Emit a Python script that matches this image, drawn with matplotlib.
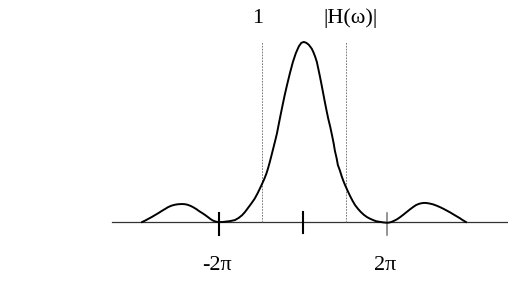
import matplotlib
matplotlib.use("Agg")
import matplotlib.pyplot as plt

# |H(w)|, w in units of pi, height relative to peak
omega = [-3.83, -3.75, -3.68, -3.60, -3.52, -3.44, -3.36, -3.28, -3.21, -3.13,
         -3.05, -2.97, -2.88, -2.81, -2.75, -2.68, -2.62, -2.54, -2.47, -2.40,
         -2.33, -2.26, -2.20, -2.15, -2.10, -2.05, -2.00, -1.92, -1.85, -1.74,
         -1.62, -1.53, -1.45, -1.38, -1.31, -1.23, -1.15, -1.08, -1.02, -0.97,
         -0.92, -0.87, -0.83, -0.79, -0.75, -0.71, -0.67, -0.62, -0.58, -0.54,
         -0.50, -0.44, -0.38, -0.31, -0.24, -0.17, -0.10, -0.04, 0.02, 0.08,
         0.14, 0.21, 0.25, 0.29, 0.33, 0.36, 0.40, 0.44, 0.48, 0.52,
         0.56, 0.60, 0.65, 0.69, 0.73, 0.76, 0.80, 0.83, 0.88, 0.92,
         0.96, 1.00, 1.06, 1.12, 1.18, 1.24, 1.31, 1.38, 1.45, 1.52,
         1.60, 1.68, 1.75, 1.83, 1.91, 2.00, 2.05, 2.10, 2.16, 2.23,
         2.30, 2.38, 2.46, 2.54, 2.62, 2.69, 2.75, 2.81, 2.87, 2.93,
         3.01, 3.10, 3.18, 3.26, 3.34, 3.42, 3.50, 3.57, 3.65, 3.73,
         3.80, 3.88]
mag = [0.000, 0.009, 0.018, 0.028, 0.039, 0.050, 0.062, 0.073, 0.083, 0.091,
       0.096, 0.099, 0.100, 0.099, 0.096, 0.090, 0.083, 0.072, 0.060, 0.050,
       0.039, 0.027, 0.016, 0.009, 0.004, 0.001, 0.000, 0.000, 0.002, 0.005,
       0.011, 0.023, 0.038, 0.056, 0.078, 0.103, 0.130, 0.160, 0.189, 0.214,
       0.240, 0.270, 0.300, 0.334, 0.370, 0.407, 0.444, 0.492, 0.540, 0.587,
       0.633, 0.700, 0.761, 0.828, 0.889, 0.938, 0.975, 0.995, 1.000, 0.995,
       0.984, 0.962, 0.942, 0.918, 0.889, 0.856, 0.812, 0.765, 0.716, 0.667,
       0.620, 0.575, 0.527, 0.483, 0.437, 0.395, 0.355, 0.317, 0.285, 0.255,
       0.229, 0.206, 0.175, 0.145, 0.118, 0.094, 0.073, 0.055, 0.040, 0.028,
       0.018, 0.010, 0.004, 0.001, -0.002, -0.004, -0.003, 0.000, 0.006, 0.014,
       0.025, 0.039, 0.054, 0.069, 0.083, 0.094, 0.100, 0.104, 0.106, 0.106,
       0.103, 0.098, 0.091, 0.083, 0.074, 0.064, 0.054, 0.044, 0.033, 0.022,
       0.011, 0.000]

tick_pos = [-2, 0, 2]
tick_labels = ["-2π", "", "2π"]
cutoff = [-0.98, 1.02]

fig = plt.figure(figsize=(5.08, 2.82), dpi=100)
ax = fig.add_axes([0, 0, 1, 1])
ax.set_xlim(-7.214, 4.881)
ax.set_ylim(-0.333, 1.233)
ax.axis("off")

# frequency axis
ax.plot([-4.55, 4.86], [0, 0], color="#333333", lw=0.9)

# tick marks
ax.plot([-2, -2], [0.05, -0.072], color="black", lw=1.5)
ax.plot([0, 0], [0.056, -0.061], color="black", lw=1.5)
ax.plot([2, 2], [0.05, -0.072], color="#777777", lw=1.1)

# cutoff lines
for c in cutoff:
    ax.plot([c, c], [0, 1.0], color="#666666", lw=0.6, ls=(0, (2, 1.5)))

ax.plot(omega, mag, color="black", lw=1.4, solid_joinstyle="round")

font = dict(family="Liberation Serif", fontsize=16, ha="center", va="center")
for p, lab in zip(tick_pos, tick_labels):
    if lab:
        ax.text(p - 0.05, -0.24, lab, **font)
ax.text(-1.09, 1.13, "1", **font)
ax.text(1.14, 1.13, "|H(ω)|", **font)

fig.savefig("out.png", dpi=100)
